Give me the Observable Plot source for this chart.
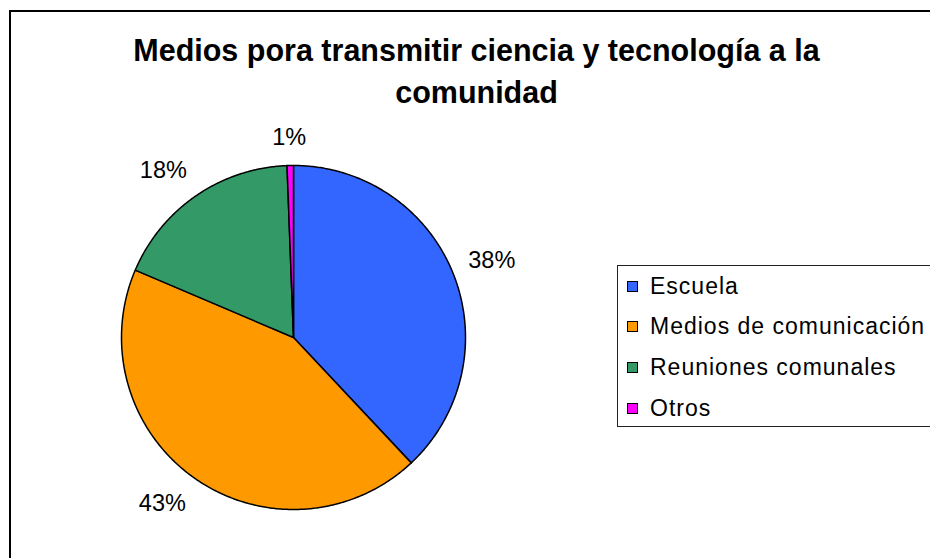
<!DOCTYPE html>
<html>
<head>
<meta charset="utf-8">
<script src="https://cdn.jsdelivr.net/npm/d3@7"></script>
<script src="https://cdn.jsdelivr.net/npm/@observablehq/plot@0.6"></script>
<style>
  html, body { margin: 0; padding: 0; background: #fff; overflow: hidden; }
  #wrap { position: relative; width: 930px; height: 558px; overflow: hidden; font-family: "Liberation Sans", Arial, sans-serif; }
  #border { position: absolute; left: 9px; top: 10px; width: 921px; height: 548px; border-top: 2px solid #000; border-left: 2px solid #000; box-sizing: border-box; }
  #chart { position: absolute; left: 0; top: 0; }
  #legend { position: absolute; left: 617px; top: 265px; width: 313px; height: 162px; border-top: 1px solid #222; border-left: 1px solid #222; border-bottom: 1px solid #222; box-sizing: border-box; background: #fff; }
  .item { position: absolute; left: 9px; height: 24px; display: flex; align-items: center; font-size: 23px; letter-spacing: 1px; color: #000; white-space: nowrap; }
  .sw { width: 9px; height: 9px; border: 1px solid #000; margin-right: 12px; }
</style>
</head>
<body>
<div id="wrap">
  <div id="border"></div>
  <div id="chart"></div>
  <div id="legend"></div>
</div>
<script>
const categories = ["Escuela", "Medios de comunicación", "Reuniones comunales", "Otros"];
const values = [38.0, 43.4, 18.0, 0.6];
const labels = ["38%", "43%", "18%", "1%"];
const colors = ["#3366FF", "#FF9900", "#339966", "#FF00FF"];
const titleLines = ["Medios pora transmitir ciencia y tecnología a la", "comunidad"];

const W = 930, H = 558;
const cx = 293, cy = 337, R = 172;
const font = "Liberation Sans, Arial, sans-serif";

const arcs = d3.pie().sort(null).value(d => d)(values);
const pts = [];
arcs.forEach((a, i) => {
  const name = categories[i];
  pts.push({name, x: cx, y: cy});
  const n = Math.max(2, Math.ceil((a.endAngle - a.startAngle) / (Math.PI / 360)));
  for (let k = 0; k <= n; k++) {
    const t = a.startAngle + (a.endAngle - a.startAngle) * k / n;
    pts.push({name, x: cx + R * Math.sin(t), y: cy - R * Math.cos(t)});
  }
});

// label placement: box corner near the ray at R + gap
const gap = 16, hw = 23.5, hh = 12;
const f = t => Math.max(-1, Math.min(1, t * 1.8));
const labelData = arcs.map((a, i) => {
  const m = (a.startAngle + a.endAngle) / 2;
  const dx = Math.sin(m), dy = -Math.cos(m);
  const px = cx + (R + gap) * dx, py = cy + (R + gap) * dy;
  return {text: labels[i], x: px + hw * f(dx), y: py + hh * f(dy)};
});

const titleData = titleLines.map((t, i) => ({text: t, x: 476, y: 51 + i * 42}));

const chart = Plot.plot({
  width: W, height: H,
  margin: 0,
  x: {type: "identity", axis: null},
  y: {type: "identity", axis: null},
  color: {domain: categories, range: colors},
  style: {fontFamily: font, background: "transparent"},
  marks: [
    Plot.line(pts, {x: "x", y: "y", z: "name", fill: "name", stroke: "#000", strokeWidth: 1.5, curve: "linear-closed", strokeLinejoin: "round"}),
    Plot.text(labelData, {x: "x", y: "y", text: "text", fontSize: 23.5, fill: "#000", fontFamily: font}),
    Plot.text(titleData, {x: "x", y: "y", text: "text", fontSize: 30.5, fontWeight: "bold", fill: "#000", fontFamily: font})
  ]
});
document.getElementById("chart").appendChild(chart);

const legend = document.getElementById("legend");
categories.forEach((c, i) => {
  const div = document.createElement("div");
  div.className = "item";
  div.style.top = (8 + i * 40.7) + "px";
  const sw = document.createElement("span");
  sw.className = "sw";
  sw.style.background = colors[i];
  const tx = document.createElement("span");
  tx.textContent = c;
  div.appendChild(sw);
  div.appendChild(tx);
  legend.appendChild(div);
});
</script>
</body>
</html>
